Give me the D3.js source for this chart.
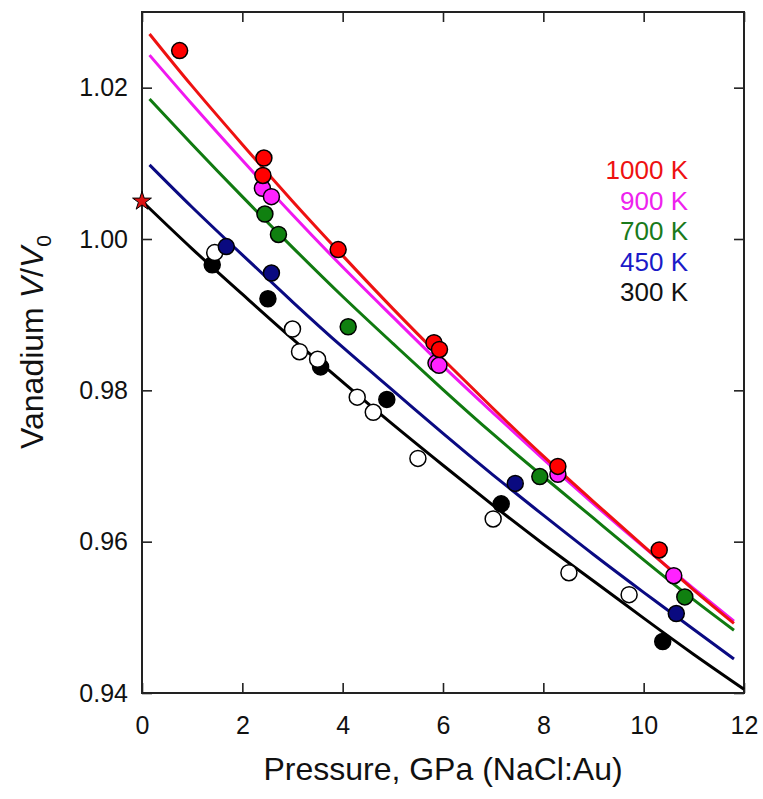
<!DOCTYPE html>
<html>
<head>
<meta charset="UTF-8">
<title>Vanadium V/V0 vs Pressure</title>
<script src="https://cdnjs.cloudflare.com/ajax/libs/d3/7.8.5/d3.min.js"></script>
<style>
body { margin: 0; background: #fff; }
svg text { font-family: Arial, "Liberation Sans", sans-serif; }
</style>
</head>
<body>
<svg id="chart" width="763" height="799"></svg>
<script>
// fitted curves
var fitP = [0.15, 1, 2, 3, 4, 5, 6, 7, 8, 9, 10, 11, 11.8];
var fit1000 = [1.0271, 1.0202, 1.0125, 1.0050, 0.9978, 0.9908, 0.9841, 0.9776, 0.9713, 0.9653, 0.9594, 0.9536, 0.9492];
var fit900  = [1.0243, 1.0178, 1.0104, 1.0032, 0.9963, 0.9897, 0.9832, 0.9770, 0.9709, 0.9650, 0.9593, 0.9538, 0.9495];
var fit700  = [1.0185, 1.0125, 1.0056, 0.9989, 0.9924, 0.9862, 0.9801, 0.9742, 0.9686, 0.9631, 0.9576, 0.9523, 0.9483];
var fit450  = [1.0098, 1.0042, 0.9979, 0.9917, 0.9857, 0.9800, 0.9743, 0.9688, 0.9635, 0.9583, 0.9533, 0.9484, 0.9445];
var fitP300 = [0, 1, 2, 3, 4, 5, 6, 7, 8, 9, 10, 11, 12];
var fit300  = [1.0050, 0.9987, 0.9927, 0.9868, 0.9811, 0.9755, 0.9701, 0.9648, 0.9597, 0.9548, 0.9499, 0.9451, 0.9405];

// measured points
var p1000 = [0.75, 2.43, 2.41, 3.91, 5.82, 5.93, 8.29, 10.31];
var v1000 = [1.0249, 1.0107, 1.0084, 0.9986, 0.9863, 0.9854, 0.96995, 0.9589];
var p900 = [2.40, 2.58, 5.86, 5.92, 8.29, 10.60];
var v900 = [1.0067, 1.0056, 0.9836, 0.9833, 0.9689, 0.9555];
var p700 = [2.45, 2.72, 4.11, 7.93, 10.82];
var v700 = [1.0033, 1.0006, 0.9884, 0.9686, 0.9527];
var p450 = [1.68, 2.58, 7.44, 10.65];
var v450 = [0.9990, 0.9955, 0.9677, 0.9505];
var p300 = [1.40, 2.51, 3.56, 4.88, 7.16, 10.38];
var v300 = [0.9966, 0.9921, 0.9831, 0.9788, 0.9650, 0.9468];
var pOpen = [1.45, 3.00, 3.14, 3.50, 4.29, 4.61, 5.50, 7.00, 8.51, 9.71];
var vOpen = [0.9982, 0.9881, 0.9851, 0.9841, 0.9791, 0.9771, 0.9710, 0.9630, 0.9559, 0.9530];
var starP = [0];
var starV = [1.005];

var xTicks = [0, 2, 4, 6, 8, 10, 12];
var yTicks = [0.94, 0.96, 0.98, 1.00, 1.02];
var legendLabels = ["1000 K", "900 K", "700 K", "450 K", "300 K"];

var svg = d3.select("#chart");
var margin = { left: 142, right: 19, top: 12, bottom: 106 };
var W = 763 - margin.left - margin.right;
var H = 799 - margin.top - margin.bottom;

var x = d3.scaleLinear().domain([0, 12]).range([0, W]);
var y = d3.scaleLinear().domain([0.94, 1.03]).range([H, 0]);

var g = svg.append("g").attr("transform", "translate(" + margin.left + "," + margin.top + ")");

// axes, ticks pointing inward
var bottom = g.append("g").attr("transform", "translate(0," + H + ")")
	.call(d3.axisBottom(x).tickValues(xTicks).tickSizeInner(-10).tickSizeOuter(0).tickPadding(23));
var left = g.append("g")
	.call(d3.axisLeft(y).tickValues(yTicks).tickFormat(d3.format(".2f")).tickSizeInner(-10).tickSizeOuter(0).tickPadding(14));
g.append("g")
	.call(d3.axisTop(x).tickValues(xTicks).tickFormat("").tickSizeInner(-10).tickSizeOuter(0));
g.append("g").attr("transform", "translate(" + W + ",0)")
	.call(d3.axisRight(y).tickValues(yTicks).tickFormat("").tickSizeInner(-10).tickSizeOuter(0));

g.selectAll(".domain").remove();
g.selectAll(".tick line").attr("stroke", "#222").attr("stroke-width", 1.6);
bottom.selectAll("text").style("font-size", "25px").attr("fill", "#111");
left.selectAll("text").style("font-size", "25px").attr("fill", "#111");

g.append("rect")
	.attr("x", 0).attr("y", 0)
	.attr("width", W).attr("height", H)
	.attr("fill", "none")
	.attr("stroke", "#222")
	.attr("stroke-width", 2);

// fit curves
var line = d3.line()
	.x(function (d) { return x(d[0]); })
	.y(function (d) { return y(d[1]); })
	.curve(d3.curveNatural);

var curves = [
	{ p: fitP300, v: fit300, color: "#000000" },
	{ p: fitP, v: fit450, color: "#0a0a82" },
	{ p: fitP, v: fit700, color: "#107a10" },
	{ p: fitP, v: fit900, color: "#f018f0" },
	{ p: fitP, v: fit1000, color: "#ee1111" }
];

curves.forEach(function (c) {
	g.append("path")
		.datum(d3.zip(c.p, c.v))
		.attr("d", line)
		.attr("fill", "none")
		.attr("stroke", c.color)
		.attr("stroke-width", 3);
});

// data points
var pointSets = [
	{ p: p300, v: v300, fill: "#000000" },
	{ p: pOpen, v: vOpen, fill: "#ffffff" },
	{ p: p450, v: v450, fill: "#0a0a80" },
	{ p: p700, v: v700, fill: "#108010" },
	{ p: p900, v: v900, fill: "#ff22ff" },
	{ p: p1000, v: v1000, fill: "#ff0000" }
];

pointSets.forEach(function (s) {
	g.append("g").selectAll("circle")
		.data(d3.zip(s.p, s.v))
		.enter().append("circle")
		.attr("cx", function (d) { return x(d[0]); })
		.attr("cy", function (d) { return y(d[1]); })
		.attr("r", 8)
		.attr("fill", s.fill)
		.attr("stroke", "#000")
		.attr("stroke-width", 1.5);
});

// reference point at zero pressure
g.selectAll(".star")
	.data(d3.zip(starP, starV))
	.enter().append("path")
	.attr("class", "star")
	.attr("transform", function (d) { return "translate(" + x(d[0]) + "," + y(d[1]) + ")"; })
	.attr("d", d3.symbol().type(d3.symbolStar).size(110))
	.attr("fill", "#dd1111")
	.attr("stroke", "#000")
	.attr("stroke-width", 1);

// legend (coloured text only)
var legendColors = ["#ee1111", "#ee22ee", "#1a7a1a", "#1a1ac8", "#111111"];
g.append("g").selectAll("text")
	.data(legendLabels)
	.enter().append("text")
	.attr("x", 688 - margin.left)
	.attr("y", function (d, i) { return 179 - margin.top + i * 30.5; })
	.attr("text-anchor", "end")
	.style("font-size", "26px")
	.attr("fill", function (d, i) { return legendColors[i]; })
	.text(function (d) { return d; });

// axis titles
svg.append("text")
	.attr("x", margin.left + W / 2)
	.attr("y", 780)
	.attr("text-anchor", "middle")
	.style("font-size", "32px")
	.attr("fill", "#111")
	.text("Pressure, GPa (NaCl:Au)");

var yl = svg.append("text")
	.attr("transform", "translate(43," + 342 + ") rotate(-90)")
	.attr("text-anchor", "middle")
	.style("font-size", "32px")
	.attr("fill", "#111");
yl.append("tspan").text("Vanadium ");
yl.append("tspan").style("font-style", "italic").text("V");
yl.append("tspan").text("/");
yl.append("tspan").style("font-style", "italic").text("V");
yl.append("tspan").attr("dy", 8).style("font-size", "21px").text("0");
</script>
</body>
</html>
